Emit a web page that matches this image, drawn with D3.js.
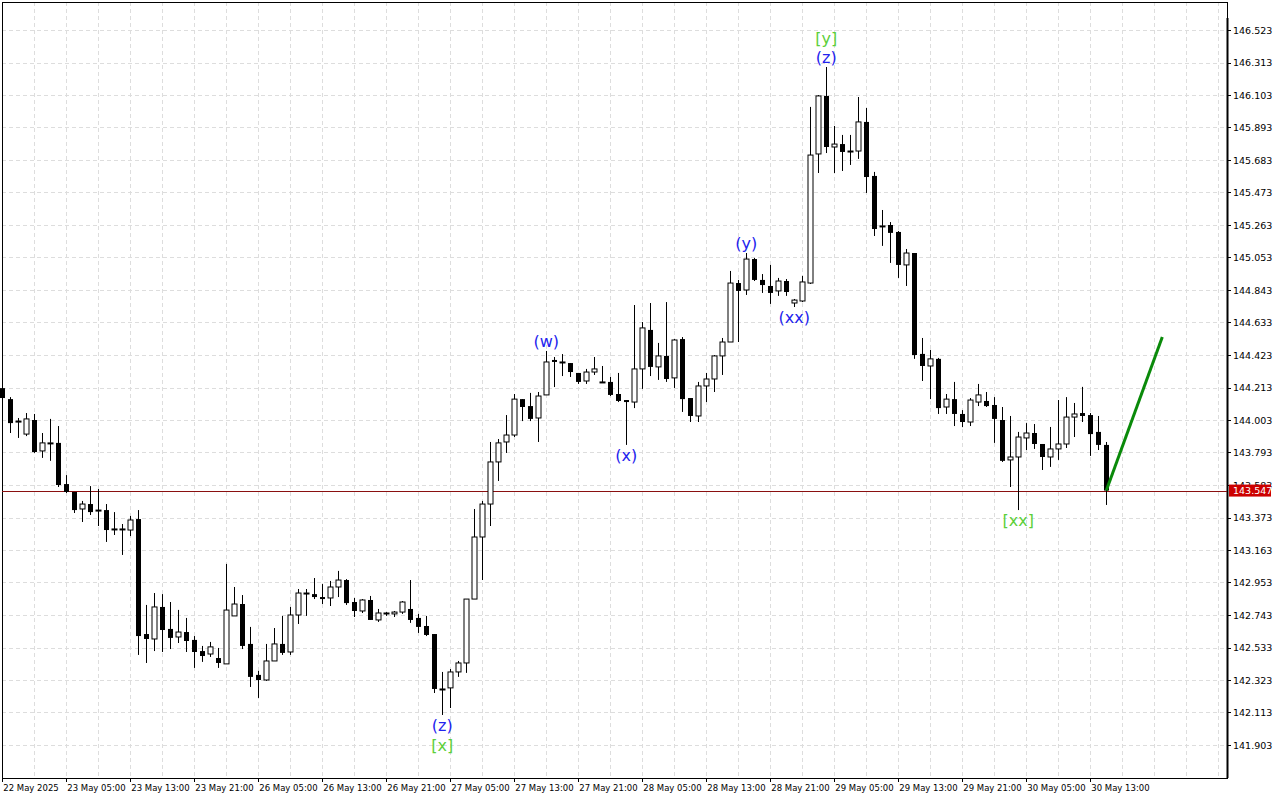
<!DOCTYPE html>
<html><head><meta charset="utf-8">
<script src="https://cdn.jsdelivr.net/npm/d3@7/dist/d3.min.js"></script>
<style>body{margin:0;background:#fff}svg{display:block}</style>
</head><body>
<script>
const open=[144.209,144.138,143.990,143.912,144.003,143.803,143.855,143.855,143.589,143.538,143.428,143.460,143.421,143.421,143.299,143.299,143.292,143.363,142.620,142.588,142.795,142.653,142.601,142.633,142.582,142.510,142.491,142.465,142.427,142.737,142.814,142.556,142.356,142.323,142.446,142.556,142.504,142.743,142.885,142.878,142.859,142.853,142.924,142.969,142.827,142.769,142.840,142.711,142.756,142.750,142.762,142.782,142.724,142.672,142.620,142.265,142.272,142.375,142.433,142.846,143.247,143.460,143.732,143.861,143.906,144.138,144.093,144.016,144.165,144.391,144.378,144.371,144.307,144.255,144.313,144.249,144.249,144.171,144.132,144.119,144.333,144.585,144.346,144.417,144.275,144.526,144.145,144.029,144.223,144.268,144.417,144.507,144.888,144.843,145.043,144.908,144.869,144.837,144.901,144.759,144.772,144.888,145.722,146.097,145.767,145.786,145.741,145.741,145.929,145.580,145.257,145.263,145.218,145.005,145.082,144.430,144.352,144.398,144.087,144.138,144.042,143.990,144.119,144.126,144.100,144.003,143.745,143.764,143.887,143.919,143.848,143.764,143.816,143.848,144.022,144.048,144.035,143.926,143.842];
const high=[144.229,144.151,144.016,144.048,144.042,143.919,144.010,143.964,143.647,143.538,143.480,143.576,143.557,143.460,143.408,143.331,143.383,143.421,142.808,142.885,142.878,142.827,142.776,142.724,142.607,142.543,142.569,142.530,143.073,142.924,142.872,142.666,142.382,142.556,142.659,142.737,142.795,142.911,142.911,142.982,142.943,142.963,143.028,142.975,142.853,142.846,142.866,142.782,142.762,142.769,142.833,142.969,142.750,142.737,142.620,142.375,142.394,142.446,142.846,143.428,143.480,143.861,143.880,144.035,144.171,144.138,144.178,144.184,144.449,144.410,144.429,144.371,144.307,144.333,144.410,144.352,144.281,144.307,144.132,144.746,144.636,144.759,144.501,144.765,144.526,144.539,144.145,144.249,144.307,144.423,144.533,144.966,144.908,145.082,145.050,144.946,145.005,144.921,144.914,144.785,144.934,146.026,146.103,146.284,145.903,145.845,145.845,146.090,146.019,145.606,145.360,145.282,145.224,145.108,145.082,144.533,144.456,144.404,144.171,144.249,144.067,144.145,144.236,144.184,144.151,144.087,144.029,143.926,143.983,143.977,143.848,143.958,144.132,144.151,144.113,144.217,144.048,144.029,143.861];
const low=[144.100,143.919,143.887,143.899,143.790,143.758,143.739,143.570,143.531,143.402,143.344,143.389,143.318,143.215,143.260,143.131,143.253,142.485,142.433,142.510,142.504,142.523,142.562,142.504,142.401,142.440,142.472,142.401,142.427,142.737,142.523,142.278,142.207,142.317,142.446,142.485,142.485,142.685,142.737,142.846,142.814,142.801,142.859,142.808,142.730,142.756,142.711,142.698,142.737,142.730,142.750,142.692,142.627,142.607,142.239,142.097,142.142,142.343,142.369,142.846,142.969,143.318,143.609,143.790,143.893,143.996,143.996,143.861,144.165,144.216,144.287,144.281,144.236,144.236,144.294,144.242,144.158,144.119,143.842,144.080,144.204,144.287,144.262,144.249,144.210,144.055,143.990,143.990,144.119,144.184,144.294,144.507,144.507,144.811,144.901,144.824,144.753,144.805,144.805,144.733,144.765,144.882,145.599,145.728,145.599,145.612,145.651,145.690,145.470,145.192,145.128,145.018,144.921,144.869,144.398,144.255,144.138,144.042,144.042,143.964,143.957,143.964,144.093,144.087,143.855,143.732,143.570,143.421,143.809,143.816,143.680,143.700,143.745,143.822,143.893,143.990,143.771,143.809,143.454];
const close=[144.145,143.983,143.996,144.010,143.796,143.855,143.855,143.583,143.538,143.421,143.460,143.408,143.421,143.292,143.299,143.299,143.357,142.607,142.588,142.795,142.646,142.595,142.633,142.575,142.504,142.478,142.537,142.433,142.775,142.814,142.543,142.343,142.323,142.446,142.556,142.498,142.743,142.885,142.885,142.859,142.846,142.924,142.969,142.820,142.769,142.840,142.711,142.756,142.756,142.762,142.827,142.711,142.666,142.614,142.265,142.265,142.375,142.433,142.846,143.247,143.460,143.732,143.855,143.906,144.138,144.087,144.010,144.158,144.378,144.378,144.378,144.313,144.249,144.313,144.333,144.249,144.165,144.126,144.119,144.333,144.598,144.346,144.417,144.268,144.520,144.138,144.029,144.223,144.268,144.417,144.507,144.888,144.837,145.043,144.908,144.875,144.824,144.901,144.830,144.778,144.895,145.715,146.097,145.767,145.786,145.735,145.741,145.929,145.573,145.237,145.257,145.212,145.005,145.082,144.423,144.352,144.398,144.080,144.138,144.042,143.990,144.132,144.165,144.093,144.010,143.739,143.764,143.893,143.919,143.848,143.764,143.816,143.848,144.022,144.042,144.029,143.912,143.842,143.547];
const priceTicks=[141.903,142.113,142.323,142.533,142.743,142.953,143.163,143.373,143.583,143.793,144.003,144.213,144.423,144.633,144.843,145.053,145.263,145.473,145.683,145.893,146.103,146.313,146.523];
const timeLabels=["22 May 2025","23 May 05:00","23 May 13:00","23 May 21:00","26 May 05:00","26 May 13:00","26 May 21:00","27 May 05:00","27 May 13:00","27 May 21:00","28 May 05:00","28 May 13:00","28 May 21:00","29 May 05:00","29 May 13:00","29 May 21:00","30 May 05:00","30 May 13:00"];
const lastPrice=143.547;
const waveLabels=[{i:68,t:"(w)",pos:"above",c:"blue"},{i:78,t:"(x)",pos:"below",c:"blue"},{i:93,t:"(y)",pos:"above",c:"blue"},{i:99,t:"(xx)",pos:"below",c:"blue"},{i:103,t:"(z)",pos:"above",c:"blue"},{i:103,t:"[y]",pos:"above2",c:"green"},{i:55,t:"(z)",pos:"below",c:"blue"},{i:55,t:"[x]",pos:"below2",c:"green"},{i:127,t:"[xx]",pos:"below",c:"green"}];
const projection=[{i:138,p:143.547},{i:145,p:144.539}];

const W=1280,H=800,L=2,R=1227,T=2,B=778;
const svg=d3.select("body").append("svg").attr("width",W).attr("height",H).style("font-family","DejaVu Sans, sans-serif");
const x=d3.scaleLinear().domain([0,138]).range([2.3,1106.3]);
const y=d3.scaleLinear().domain([141.903,146.523]).range([745,30]);
const g=svg.append("g");
g.selectAll(".hg").data(priceTicks).join("line").attr("x1",L).attr("x2",R).attr("y1",d=>Math.round(y(d))+.5).attr("y2",d=>Math.round(y(d))+.5).attr("stroke","#ddd").attr("stroke-dasharray","4,3");
g.selectAll(".vg").data(d3.range(1,39)).join("line").attr("x1",d=>Math.round(x(d*4))+.5).attr("x2",d=>Math.round(x(d*4))+.5).attr("y1",T).attr("y2",B).attr("stroke","#ddd").attr("stroke-dasharray","4,3");
svg.append("rect").attr("x",L+.5).attr("y",T+.5).attr("width",R-L).attr("height",B-T).attr("fill","none").attr("stroke","#000");
svg.append("line").attr("x1",R+.5).attr("x2",R+.5).attr("y1",18).attr("y2",B).attr("stroke","#000").attr("stroke-width",2);
svg.append("line").attr("x1",L).attr("x2",R).attr("y1",Math.round(y(lastPrice))+.5).attr("y2",Math.round(y(lastPrice))+.5).attr("stroke","#8a1010").attr("stroke-width",1);
const idx=d3.range(open.length);
const cg=svg.append("g");
cg.selectAll(".w").data(idx).join("line").attr("x1",i=>Math.round(x(i))+.5).attr("x2",i=>Math.round(x(i))+.5).attr("y1",i=>y(high[i])).attr("y2",i=>y(low[i])).attr("stroke","#000");
cg.selectAll(".b").data(idx).join("rect").attr("x",i=>Math.round(x(i))-2).attr("width",5)
 .attr("y",i=>y(Math.max(open[i],close[i]))).attr("height",i=>Math.max(1,Math.abs(y(open[i])-y(close[i]))))
 .attr("fill",i=>close[i]<open[i]?"#000":"#fff").attr("stroke","#000").attr("stroke-width",i=>close[i]<open[i]?0:1);
svg.append("path").datum(projection).attr("d",d3.line().x(d=>x(d.i)).y(d=>y(d.p))).attr("stroke","#0a8a0a").attr("stroke-width",3).attr("fill","none");
svg.selectAll(".wl").data(waveLabels).join("text").attr("x",d=>x(d.i)).attr("text-anchor","middle").attr("font-size",16)
 .attr("y",d=>d.pos==="above"?y(high[d.i])-4:d.pos==="above2"?y(high[d.i])-23:d.pos==="below"?y(low[d.i])+16:y(low[d.i])+36)
 .attr("fill",d=>d.c==="blue"?"#2323ee":"#5ccf3a").text(d=>d.t);
const ya=svg.append("g");
ya.selectAll("line").data(priceTicks).join("line").attr("x1",R).attr("x2",R+4).attr("y1",d=>Math.round(y(d))+.5).attr("y2",d=>Math.round(y(d))+.5).attr("stroke","#000");
ya.selectAll("text").data(priceTicks).join("text").attr("x",R+6).attr("y",d=>y(d)+3.5).attr("font-size",9.5).attr("fill","#000").text(d=>d.toFixed(3));
svg.append("rect").attr("x",R+2).attr("y",y(lastPrice)-6).attr("width",42).attr("height",12).attr("fill","#cc0000");
svg.append("text").attr("x",R+6).attr("y",y(lastPrice)+3.5).attr("font-size",9.5).attr("fill","#fff").text(lastPrice.toFixed(3));
const xa=svg.append("g");
xa.selectAll("line").data(timeLabels).join("line").attr("x1",(d,i)=>Math.round(x(i*8))+.5).attr("x2",(d,i)=>Math.round(x(i*8))+.5).attr("y1",B).attr("y2",B+4).attr("stroke","#000");
xa.selectAll("text").data(timeLabels).join("text").attr("x",(d,i)=>x(i*8)+1).attr("y",B+13).attr("font-size",8.5).attr("fill","#000").text(d=>d);
</script></body></html>
